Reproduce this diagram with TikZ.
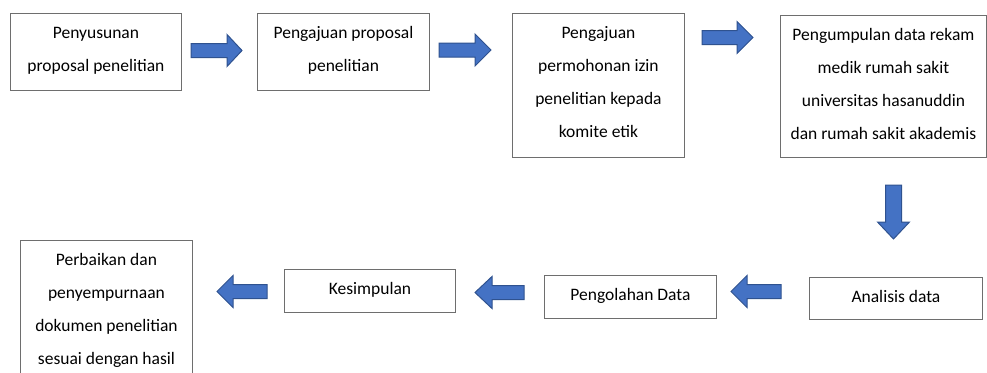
\documentclass[tikz,border=0pt]{standalone}
\usepackage{fontspec}
\setmainfont{Carlito}
\definecolor{arrfill}{HTML}{4472C4}
\definecolor{arrline}{HTML}{2F528F}
\definecolor{boxline}{HTML}{6E6E6E}
\tikzset{
  boxn/.style={draw=boxline, line width=0.9pt, fill=white, inner sep=0pt, anchor=north west},
  txt/.style={inner sep=0pt, align=center, font=\fontsize{17.5}{33}\selectfont, anchor=north},
  blk/.style={fill=arrfill, draw=arrline, line width=1pt, line join=miter}
}
\newcommand\rarr[4]{\draw[blk] (#1,#3-7)--(#4,#3-7)--(#4,#3-16)--(#2,#3)--(#4,#3+16)--(#4,#3+7)--(#1,#3+7)--cycle;}
\newcommand\larr[4]{\draw[blk] (#2,#3-7)--(#4,#3-7)--(#4,#3-16)--(#1,#3)--(#4,#3+16)--(#4,#3+7)--(#2,#3+7)--cycle;}
\newcommand\darr[4]{\draw[blk] (#1-8,#2)--(#1+8,#2)--(#1+8,#4)--(#1+16,#4)--(#1,#3)--(#1-16,#4)--(#1-8,#4)--cycle;}
\begin{document}
\begin{tikzpicture}[x=1pt,y=-1pt]
\useasboundingbox (0,0) rectangle (987,372);
\clip (0,0) rectangle (987,372);
\fill[white] (0,0) rectangle (987,372);
% boxes
\node[boxn, minimum width=171pt, minimum height=77pt] (b1) at (10,13) {};
\node[boxn, minimum width=172pt, minimum height=77pt] (b2) at (257,13) {};
\node[boxn, minimum width=172pt, minimum height=144pt] (b3) at (512,13) {};
\node[boxn, minimum width=206pt, minimum height=142pt] (b4) at (780,15) {};
\node[boxn, minimum width=173pt, minimum height=42pt] (b5) at (809,277) {};
\node[boxn, minimum width=172pt, minimum height=43pt] (b6) at (544,275) {};
\node[boxn, minimum width=171pt, minimum height=43pt] (b7) at (284,269) {};
\node[boxn, minimum width=172pt, minimum height=170pt] (b8) at (20,240) {};
% texts
\node[txt] (t1) at ([yshift=-2pt]b1.north) {\strut Penyusunan\\proposal penelitian};
\node[txt] (t2) at ([yshift=-2pt]b2.north) {\strut Pengajuan proposal\\penelitian};
\node[txt] (t3) at ([yshift=-2pt]b3.north) {\strut Pengajuan\\permohonan izin\\penelitian kepada\\komite etik};
\node[txt] (t4) at ([yshift=-2pt]b4.north) {\strut Pengumpulan data rekam\\medik rumah sakit\\universitas hasanuddin\\dan rumah sakit akademis};
\node[txt] (t5) at ([yshift=-2pt]b5.north) {\strut Analisis data};
\node[txt] (t6) at ([yshift=-2pt]b6.north) {\strut Pengolahan Data};
\node[txt] (t7) at ([yshift=-2pt]b7.north) {\strut Kesimpulan};
\node[txt] (t8) at ([yshift=-2pt]b8.north) {\strut Perbaikan dan\\penyempurnaan\\dokumen penelitian\\sesuai dengan hasil};
% block arrows
\rarr{191}{242}{50.5}{227}
\rarr{439}{491}{50}{475}
\rarr{702}{753}{37.5}{737}
\darr{893.5}{185}{239}{222}
\larr{731}{781}{291.5}{747}
\larr{475}{524}{292.5}{492}
\larr{217}{267}{291.5}{233}
\end{tikzpicture}
\end{document}
